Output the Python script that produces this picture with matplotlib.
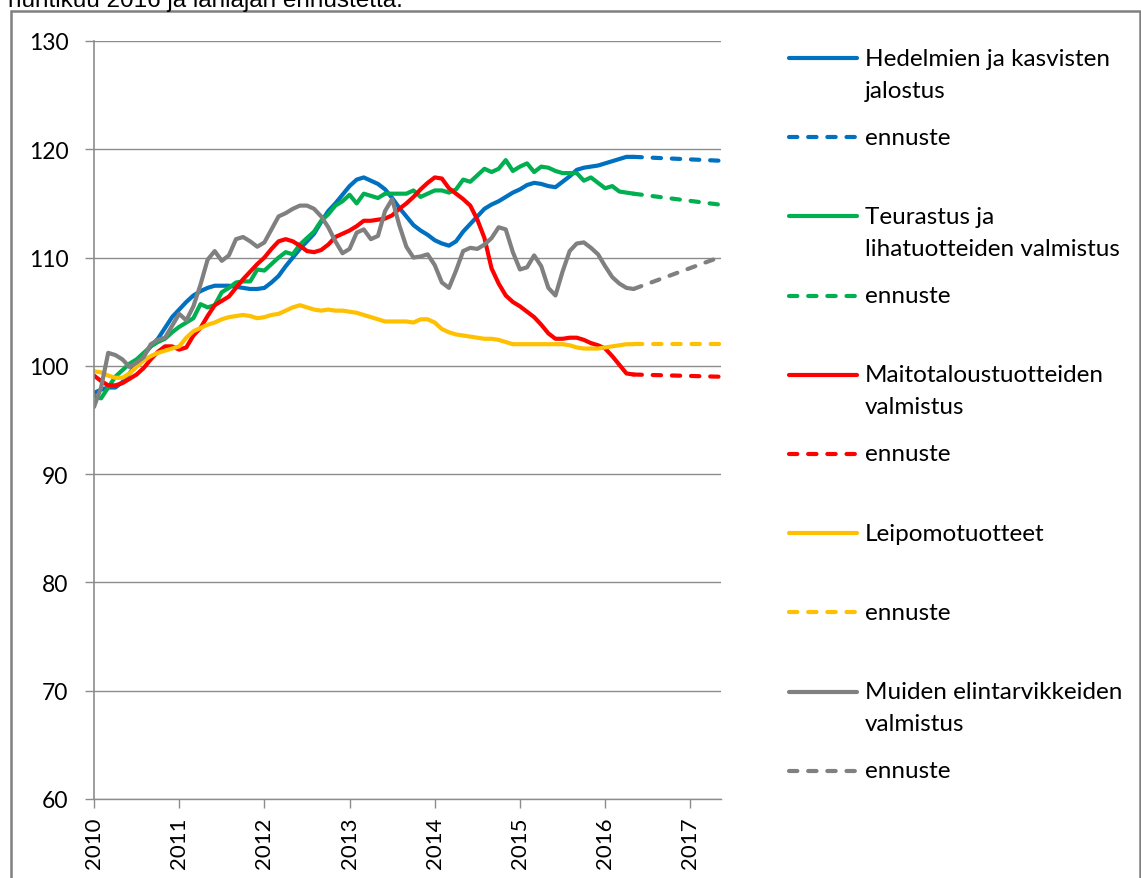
import numpy as np
import matplotlib
matplotlib.use("Agg")
import matplotlib.pyplot as plt
from matplotlib.patches import Rectangle

# kuukausittaiset indeksit 2010-01 ... 2016-05
hedelmat = [97.5, 97.8, 98.0, 98.0, 98.5, 99.3, 100.2, 101.0, 101.8, 102.5, 103.5, 104.5,
            105.2, 105.9, 106.5, 106.9, 107.2, 107.4, 107.4, 107.4, 107.3, 107.2, 107.1, 107.1,
            107.2, 107.7, 108.3, 109.2, 110.0, 110.8, 111.5, 112.2, 113.3, 114.3, 115.0, 115.8,
            116.6, 117.2, 117.4, 117.1, 116.8, 116.3, 115.5, 114.6, 113.8, 113.0, 112.5, 112.1,
            111.6, 111.3, 111.1, 111.5, 112.4, 113.1, 113.8, 114.5, 114.9, 115.2, 115.6, 116.0,
            116.3, 116.7, 116.9, 116.8, 116.6, 116.5, 117.0, 117.5, 118.1, 118.3, 118.4, 118.5,
            118.7, 118.9, 119.1, 119.3, 119.3]
teurastus = [97.2, 97.0, 98.0, 99.0, 99.6, 100.2, 100.6, 101.2, 101.8, 102.2, 102.5, 103.1,
             103.6, 104.0, 104.4, 105.7, 105.4, 105.6, 106.8, 107.2, 107.7, 107.8, 107.8, 108.9,
             108.8, 109.4, 110.0, 110.5, 110.3, 111.2, 111.8, 112.4, 113.4, 114.0, 114.8, 115.2,
             115.8, 115.0, 115.9, 115.7, 115.5, 115.9, 115.9, 115.9, 115.9, 116.2, 115.6, 115.9,
             116.2, 116.2, 116.0, 116.3, 117.2, 117.0, 117.6, 118.2, 117.9, 118.2, 119.0, 118.0,
             118.4, 118.7, 117.9, 118.4, 118.3, 118.0, 117.8, 117.8, 117.8, 117.1, 117.4, 116.9,
             116.4, 116.6, 116.1, 116.0, 115.9]
maito = [99.1, 98.6, 98.2, 98.2, 98.4, 98.8, 99.2, 99.8, 100.6, 101.3, 101.8, 101.8,
         101.5, 101.7, 102.8, 103.5, 104.6, 105.6, 106.0, 106.4, 107.2, 108.0, 108.7, 109.4,
         110.0, 110.8, 111.5, 111.7, 111.5, 111.1, 110.6, 110.5, 110.7, 111.2, 111.9, 112.2,
         112.5, 112.9, 113.4, 113.4, 113.5, 113.6, 113.9, 114.5, 115.0, 115.6, 116.3, 116.9,
         117.4, 117.3, 116.4, 115.9, 115.4, 114.8, 113.5, 111.8, 109.0, 107.6, 106.5, 105.9,
         105.5, 105.0, 104.5, 103.8, 103.0, 102.5, 102.5, 102.6, 102.6, 102.4, 102.1, 101.9,
         101.6, 100.9, 100.1, 99.3, 99.2]
leipomo = [99.5, 99.4, 99.1, 98.9, 98.9, 99.3, 99.9, 100.5, 100.9, 101.2, 101.4, 101.6,
           101.8, 102.6, 103.2, 103.5, 103.8, 104.0, 104.3, 104.5, 104.6, 104.7, 104.6, 104.4,
           104.5, 104.7, 104.8, 105.1, 105.4, 105.6, 105.4, 105.2, 105.1, 105.2, 105.1, 105.1,
           105.0, 104.9, 104.7, 104.5, 104.3, 104.1, 104.1, 104.1, 104.1, 104.0, 104.3, 104.3,
           104.0, 103.4, 103.1, 102.9, 102.8, 102.7, 102.6, 102.5, 102.5, 102.4, 102.2, 102.0,
           102.0, 102.0, 102.0, 102.0, 102.0, 102.0, 102.0, 101.9, 101.7, 101.6, 101.6, 101.6,
           101.7, 101.8, 101.9, 102.0, 102.0]
muut = [96.2, 98.0, 101.2, 101.0, 100.6, 99.9, 100.3, 100.8, 102.0, 102.4, 102.6, 103.7,
        104.8, 104.2, 105.5, 107.5, 109.8, 110.6, 109.7, 110.2, 111.7, 111.9, 111.5, 111.0,
        111.4, 112.6, 113.8, 114.1, 114.5, 114.8, 114.8, 114.5, 113.8, 112.8, 111.5, 110.4,
        110.8, 112.3, 112.6, 111.7, 112.0, 114.3, 115.4, 113.0, 111.0, 110.0, 110.1, 110.3,
        109.3, 107.7, 107.2, 108.8, 110.6, 110.9, 110.8, 111.2, 111.8, 112.8, 112.6, 110.5,
        108.9, 109.1, 110.2, 109.2, 107.2, 106.5, 108.7, 110.6, 111.3, 111.4, 110.9, 110.3,
        109.2, 108.2, 107.6, 107.2, 107.1]

# ennusteet: alku- ja loppuarvo (kuukausi 76 ja 88)
ennuste_kk = [76, 88]
hedelmat_ennuste = [119.3, 118.95]
teurastus_ennuste = [115.9, 114.9]
maito_ennuste = [99.2, 99.0]
leipomo_ennuste = [102.0, 102.0]
muut_ennuste = [107.1, 110.0]

nimet = ["Hedelmien ja kasvisten\njalostus", "Teurastus ja\nlihatuotteiden valmistus",
         "Maitotaloustuotteiden\nvalmistus", "Leipomotuotteet",
         "Muiden elintarvikkeiden\nvalmistus"]
varit = ["#0070C0", "#00B050", "#FF0000", "#FFC000", "#808080"]
vuodet = list(range(2010, 2018))

sarjat = [hedelmat, teurastus, maito, leipomo, muut]
ennusteet = [hedelmat_ennuste, teurastus_ennuste, maito_ennuste, leipomo_ennuste, muut_ennuste]

kk = 2010 + np.arange(len(hedelmat)) / 12
kk_e = 2010 + np.array(ennuste_kk) / 12

W, H = 1141, 879
fig = plt.figure(figsize=(W / 100, H / 100), dpi=100)
ax = fig.add_axes([94 / W, 1 - 800 / H, (721 - 94) / W, (800 - 42) / H])

lw = 3.0
for s, e, c in zip(sarjat, ennusteet, varit):
    ax.plot(kk, s, color=c, lw=lw, solid_capstyle="round", solid_joinstyle="round")
    ax.plot(kk_e, e, color=c, lw=lw, dashes=(2.0, 2.6), dash_capstyle="round")

ax.set_xlim(2010, 2017.36)
ax.set_ylim(60, 130)
ax.set_yticks(range(60, 131, 10))
ax.set_xticks(vuodet)
ax.set_xticklabels([str(v) for v in vuodet], rotation=90, family="Lato", fontsize=16)
for t in ax.get_yticklabels():
    t.set_family("Lato")
    t.set_fontsize(16.5)
ax.grid(axis="y", color="#8c8c8c", lw=1.0)
ax.set_axisbelow(True)
for sp in ["top", "right"]:
    ax.spines[sp].set_visible(False)
ax.spines["left"].set_color("#8c8c8c")
ax.spines["left"].set_linewidth(1.2)
ax.spines["bottom"].set_color("#8c8c8c")
ax.spines["bottom"].set_linewidth(1.0)
ax.tick_params(axis="y", length=6.5, color="#8c8c8c", width=1.0, pad=12)
ax.tick_params(axis="x", length=6.5, color="#8c8c8c", width=1.0, pad=6)

# selite oikealla
lax = fig.add_axes([0, 0, 1, 1], facecolor="none")
lax.set_xlim(0, W)
lax.set_ylim(H, 0)
lax.axis("off")
y0, dy = 59, 79.2
rivi = 0
for nimi, c in zip(nimet, varit):
    y = y0 + rivi * dy
    lax.plot([789, 857], [y, y], color=c, lw=lw, solid_capstyle="round")
    for j, osa in enumerate(nimi.split("\n")):
        lax.text(865, y + j * 32, osa, family="Lato", fontsize=17.5, va="center", ha="left")
    y = y0 + (rivi + 1) * dy
    lax.plot([789, 857], [y, y], color=c, lw=lw, dashes=(2.0, 2.6), dash_capstyle="round")
    lax.text(865, y, "ennuste", family="Lato", fontsize=17.5, va="center", ha="left")
    rivi += 2

# kehys ja leikkautunut otsikko
fig.patches.append(Rectangle((11 / W, -0.1), (W - 12) / W, 1.1 - 12 / H, transform=fig.transFigure,
                             fill=False, edgecolor="#808080", lw=1.8))
fig.text(8 / W, 1 - 7 / H, "huhtikuu 2016 ja lähiajan ennustetta.", family="Liberation Sans",
         fontsize=17.5, va="baseline", ha="left")

fig.savefig("out.png", dpi=100)
